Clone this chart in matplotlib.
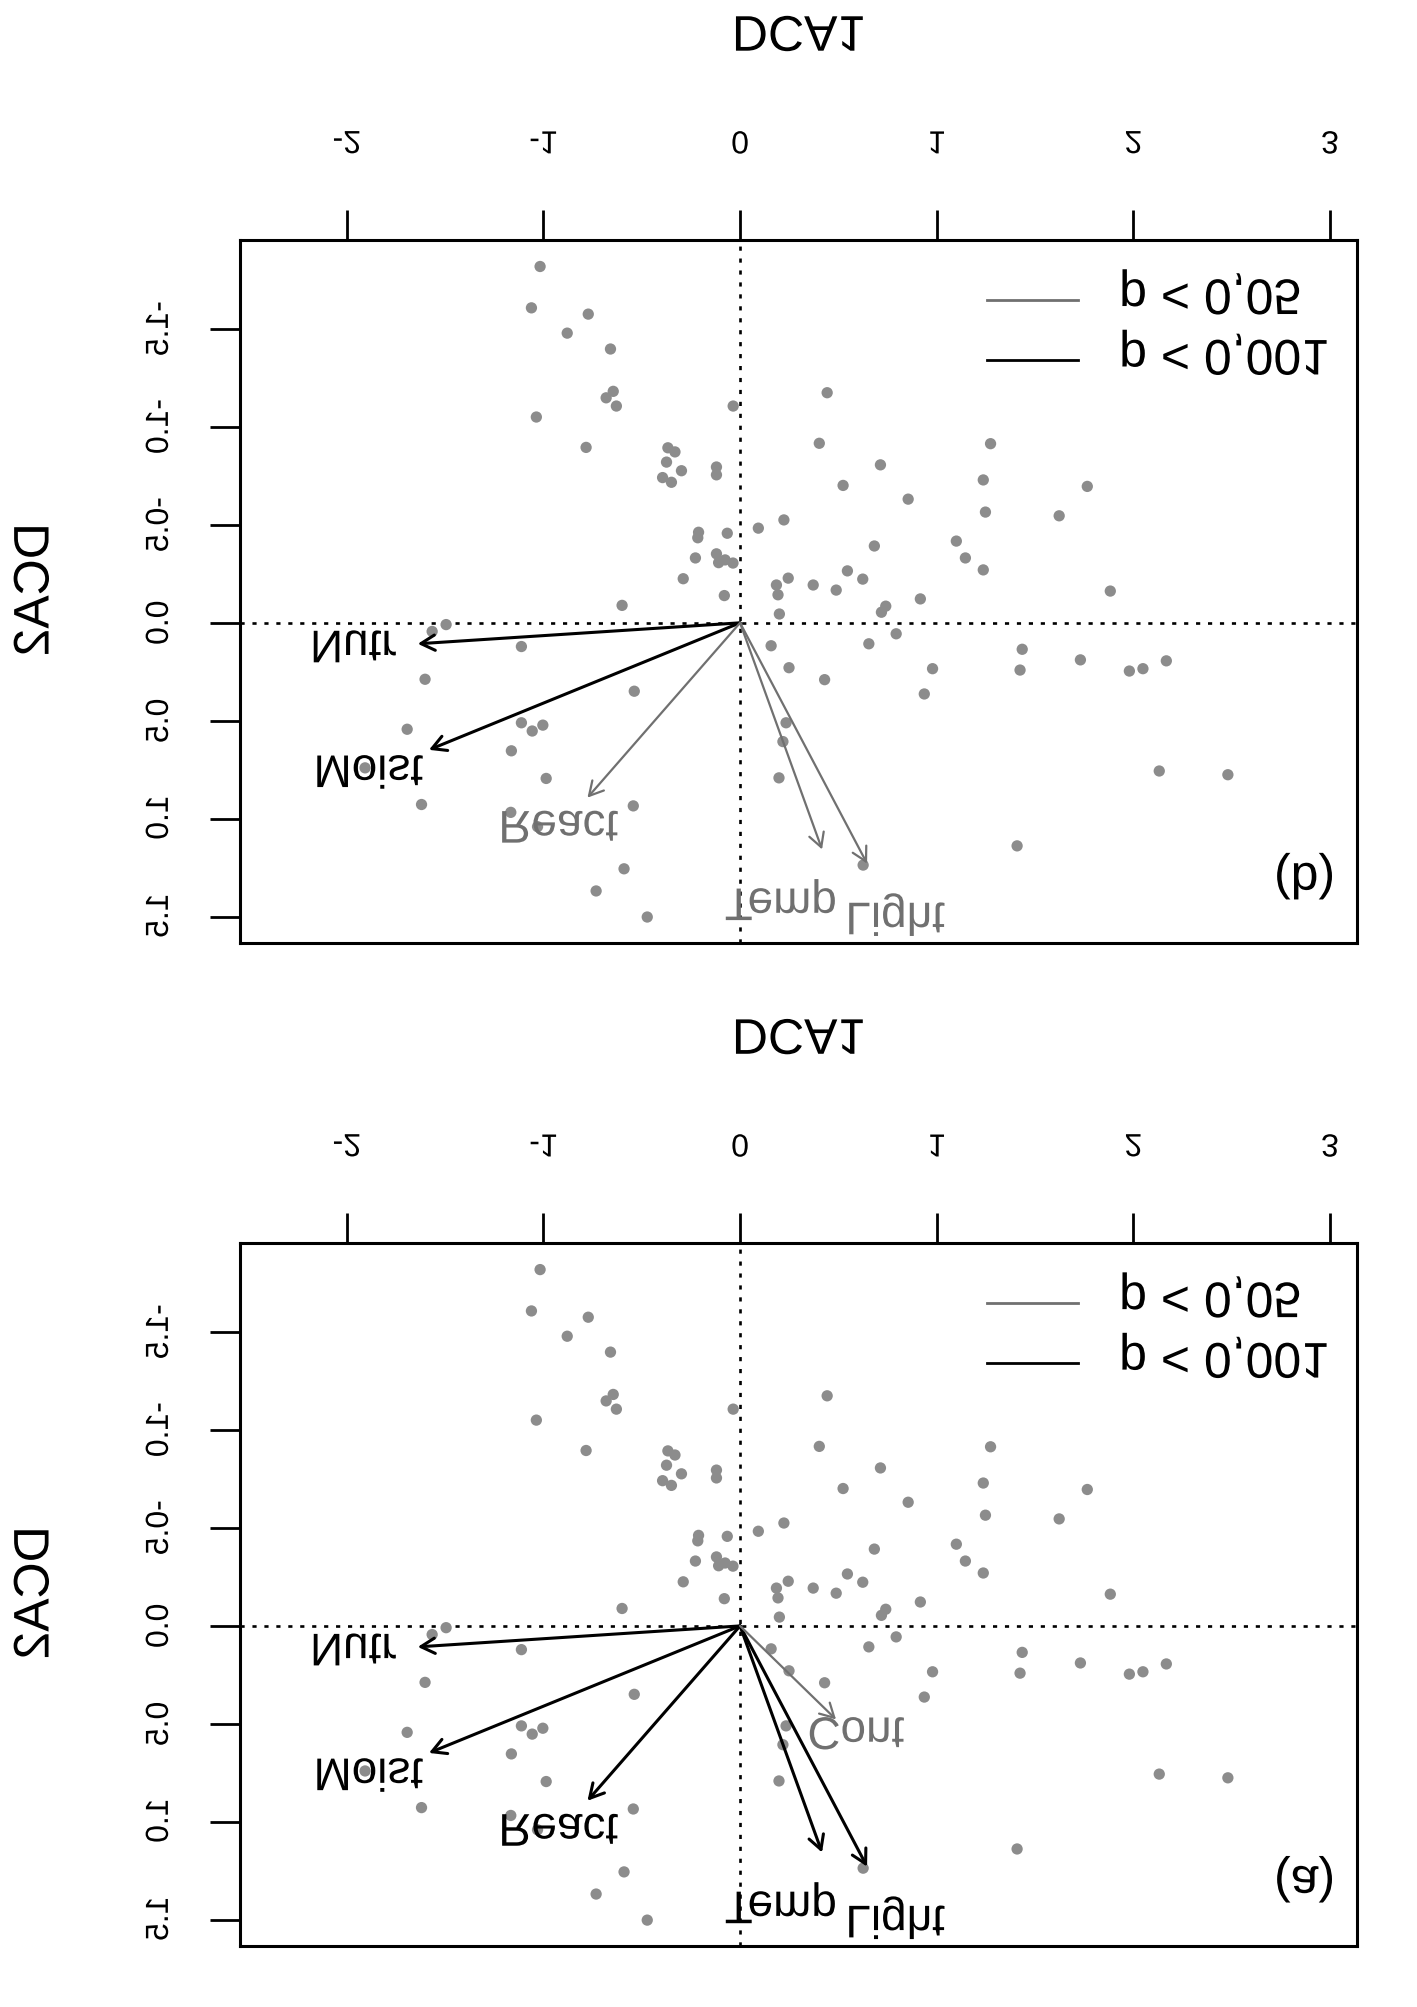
import matplotlib
matplotlib.use('Agg')
import matplotlib.pyplot as plt
from matplotlib.patches import FancyArrowPatch
from matplotlib.patheffects import AbstractPathEffect
from matplotlib.transforms import Affine2D
from matplotlib.text import Text

plt.rcParams['font.family'] = ['Liberation Sans', 'DejaVu Sans']
plt.rcParams['lines.scale_dashes'] = False

# site scores (DCA1, DCA2)
site_x = [-1.017, -1.061, -0.772, -0.879, -0.659, -0.645, -0.681, -0.629, -1.036, -0.035,
          -0.783, -0.367, -0.331, -0.374, -0.298, -0.120, -0.120, -0.394, -0.349, 0.093,
          0.223, -0.211, -0.215, -0.065, -0.227, -0.120, -0.109, -0.076, -0.036, -0.289,
          -0.080, 0.185, 0.245, 0.193, 0.200, -0.600, -1.495, -1.566, -1.112, 0.158,
          0.249, -1.602, -0.538, -1.693, -1.112, -1.057, -1.003, 0.234, 0.218, -1.163,
          -1.907, -0.986, 0.198, -1.620, -0.543, -1.166, -1.030, -0.590, -0.732, -0.472,
          0.443, 0.403, 0.714, 0.524, 0.855, 1.274, 1.237, 1.248, 1.766, 1.623,
          1.100, 1.146, 1.237, 0.683, 0.546, 0.624, 0.372, 0.489, 0.917, 0.741,
          0.719, 1.883, 0.794, 0.655, 0.430, 0.979, 0.937, 1.435, 1.424, 1.731,
          1.980, 2.049, 2.168, 2.132, 2.481, 1.409, 0.626]
site_y = [-1.818, -1.607, -1.575, -1.478, -1.397, -1.181, -1.148, -1.106, -1.050, -1.106,
          -0.895, -0.893, -0.872, -0.820, -0.776, -0.795, -0.755, -0.741, -0.717, -0.483,
          -0.525, -0.462, -0.434, -0.457, -0.331, -0.352, -0.307, -0.321, -0.305, -0.225,
          -0.139, -0.193, -0.228, -0.143, -0.045, -0.089, 0.009, 0.044, 0.121, 0.117,
          0.229, 0.288, 0.349, 0.543, 0.510, 0.552, 0.522, 0.510, 0.606, 0.653,
          0.740, 0.794, 0.791, 0.927, 0.934, 0.967, 1.040, 1.255, 1.368, 1.501,
          -1.174, -0.916, -0.806, -0.701, -0.631, -0.914, -0.729, -0.565, -0.696, -0.546,
          -0.417, -0.331, -0.270, -0.392, -0.265, -0.223, -0.193, -0.167, -0.122, -0.085,
          -0.054, -0.162, 0.056, 0.107, 0.290, 0.234, 0.363, 0.135, 0.241, 0.189,
          0.246, 0.234, 0.194, 0.756, 0.775, 1.138, 1.236]

# fitted environmental vectors
env_names = ['Nutr', 'Moist', 'React', 'Temp', 'Light', 'Cont']
env_x = [-1.639, -1.582, -0.776, 0.417, 0.646, 0.488]
env_y = [0.107, 0.648, 0.892, 1.156, 1.228, 0.477]
lab_x = [-1.967, -1.891, -0.924, 0.207, 0.789, 0.589]
lab_y = [0.138, 0.783, 1.058, 1.407, 1.488, 0.567]

# 2 = p < 0.001, 1 = p < 0.05, 0 = not shown
sig_b = [2, 2, 1, 1, 1, 0]
sig_a = [2, 2, 2, 2, 2, 1]

legend_labels = ['p < 0,05', 'p < 0,001']
x_ticks = [-2, -1, 0, 1, 2, 3]
x_ticklabels = ['-2', '-1', '0', '1', '2', '3']
y_ticks = [-1.5, -1.0, -0.5, 0.0, 0.5, 1.0, 1.5]
y_ticklabels = ['-1.5', '-1.0', '-0.5', '0.0', '0.5', '1.0', '1.5']

GREY_PT = '#8c8c8c'
GREY_ARR = '#707070'


class Mirror(AbstractPathEffect):
    """draw text upside down (mirrored about its own middle)"""
    def draw_path(self, renderer, gc, tpath, affine, rgbFace=None):
        ext = tpath.get_extents(affine)
        cy = 0.5 * (ext.y0 + ext.y1)
        flip = Affine2D().translate(0, -cy).scale(1, -1).translate(0, cy)
        renderer.draw_path(gc, tpath, affine + flip, rgbFace)


def panel(ax, sig, tag):
    ax.set_xlim(-2.543, 3.138)
    ax.set_ylim(1.633, -1.954)
    dots = (0, (3.0, 5.6))
    ax.axhline(0, color='black', lw=1.9, ls=dots, zorder=1)
    ax.axvline(0, color='black', lw=1.9, ls=dots, zorder=1)
    ax.scatter(site_x, site_y, s=66, color=GREY_PT, edgecolors='none', zorder=2)

    for name, x, y, lx, ly, s in zip(env_names, env_x, env_y, lab_x, lab_y, sig):
        if s == 0:
            continue
        col = 'black' if s == 2 else GREY_ARR
        lw = 2.2 if s == 2 else 1.6
        arr = FancyArrowPatch((0, 0), (x, y), arrowstyle='->,head_length=10,head_width=5.5',
                              mutation_scale=1, lw=lw, color=col, shrinkA=0, shrinkB=0, zorder=3)
        ax.add_patch(arr)
        ax.text(lx, ly, name, ha='center', va='center', fontsize=33, color=col, zorder=4)

    # legend (no box)
    for yy, col, lab in zip([0.915, 0.829], [GREY_ARR, 'black'], legend_labels):
        ax.plot([0.669, 0.750], [yy, yy], transform=ax.transAxes, color=col, lw=2, clip_on=False)
        ax.text(0.787, yy + 0.012, lab, transform=ax.transAxes, ha='left', va='center', fontsize=36)

    ax.text(0.953, 0.095, tag, transform=ax.transAxes, ha='center', va='center', fontsize=36)

    ax.xaxis.tick_top()
    ax.xaxis.set_label_position('top')
    ax.set_xticks(x_ticks, x_ticklabels, fontsize=23)
    ax.set_yticks(y_ticks, y_ticklabels, fontsize=23, rotation=90, va='center')
    ax.tick_params(axis='x', length=21.6, width=2, pad=35.6)
    ax.tick_params(axis='y', length=21.6, width=2, pad=25.3)
    for sp in ax.spines.values():
        sp.set_linewidth(2.2)
    ax.set_xlabel('DCA1', fontsize=36)
    ax.set_ylabel('DCA2', fontsize=36)
    ax.xaxis.set_label_coords(0.5, 1.269)
    ax.yaxis.set_label_coords(-0.1625, 0.5)


fig = plt.figure(figsize=(14.17, 20.07), dpi=100)
ax_b = fig.add_axes([0.1694, 0.5302, 0.7883, 0.3503])
ax_a = fig.add_axes([0.1694, 0.0304, 0.7883, 0.3503])
panel(ax_b, sig_b, '(b)')
panel(ax_a, sig_a, '(a)')

for t in fig.findobj(Text):
    t.set_path_effects([Mirror()])

fig.savefig('out.png', dpi=100)
